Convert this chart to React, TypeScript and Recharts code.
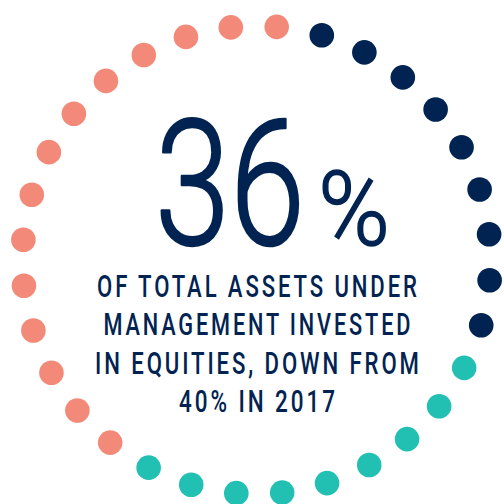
import React, { useLayoutEffect, useRef, useState } from 'react';
import { RadarChart, Radar, PolarAngleAxis, PolarRadiusAxis } from 'recharts';

// Dot ring: number of dots per segment, clockwise from the top
const segmentLabels = ['Equities', 'Segment B', 'Segment C'];
const segmentDots = [9, 9, 14];
const segmentColors = ['#012352', '#22bfb3', '#f38a79'];

const headlineValue = '36';
const headlineUnit = '%';
const captionLines = [
  'OF TOTAL ASSETS UNDER',
  'MANAGEMENT INVESTED',
  'IN EQUITIES, DOWN FROM',
  '40% IN 2017',
];

const data: { name: string; segment: number; value: number }[] = [];
segmentDots.forEach((n, s) => {
  for (let i = 0; i < n; i++) {
    data.push({ name: `${segmentLabels[s]} ${i + 1}`, segment: s, value: 1 });
  }
});

const captionLengths = [320, 307, 324, 156];
const captionBaselines = [297, 335, 374, 412];

const renderDot = (props: any) => {
  const { cx, cy, payload, index } = props;
  const seg = payload && payload.segment !== undefined ? payload.segment : data[index].segment;
  return <circle key={`dot-${index}`} cx={cx} cy={cy} r={12.3} fill={segmentColors[seg]} />;
};

// Text squeezed horizontally to a target width with a measured scale
function FitText(props: any) {
  const { x, y, width, anchor = 'start', spacing = 0, children, ...rest } = props;
  const ref = useRef<SVGTextElement>(null);
  const [sx, setSx] = useState(1);
  useLayoutEffect(() => {
    if (ref.current) {
      const w = ref.current.getComputedTextLength() - spacing;
      if (w > 0) setSx(width / w);
    }
  }, [width, children, spacing]);
  const ax = anchor === 'middle' ? x + (spacing / 2) : x;
  return (
    <text
      ref={ref}
      x={ax}
      y={y}
      textAnchor={anchor}
      letterSpacing={spacing}
      transform={`translate(${x} 0) scale(${sx} 1) translate(${-x} 0)`}
      {...rest}
    >
      {children}
    </text>
  );
}

export default function App() {
  const start = 73.8;
  return (
    <div style={{ position: 'absolute', left: 0, top: 0, width: 504, height: 504, background: '#fff' }}>
      <RadarChart
        width={504}
        height={504}
        data={data}
        cx={256.5}
        cy={260}
        outerRadius={234}
        startAngle={start}
        endAngle={start - 360}
        margin={{ top: 0, right: 0, bottom: 0, left: 0 }}
      >
        <PolarAngleAxis dataKey="name" tick={false} axisLine={false} tickLine={false} />
        <PolarRadiusAxis domain={[0, 1]} tick={false} axisLine={false} tickLine={false} />
        <Radar
          dataKey="value"
          fill="none"
          stroke="none"
          dot={renderDot}
          isAnimationActive={false}
        />
      </RadarChart>
      <svg width={504} height={504} style={{ position: 'absolute', left: 0, top: 0 }}>
        <FitText
          x={155}
          y={244}
          width={150}
          fontFamily="Roboto"
          fontWeight={300}
          fontSize={175}
          fill="#012352"
          stroke="#012352"
          strokeWidth={2.5}
          strokeLinejoin="round"
        >
          {headlineValue}
        </FitText>
        <FitText
          x={318}
          y={245}
          width={72}
          fontFamily="Roboto"
          fontWeight={300}
          fontSize={104}
          fill="#012352"
          stroke="#012352"
          strokeWidth={1.5}
        >
          {headlineUnit}
        </FitText>
        {captionLines.map((line, i) => (
          <FitText
            key={line}
            x={257}
            y={captionBaselines[i]}
            width={captionLengths[i]}
            anchor="middle"
            spacing={4}
            fontFamily="Roboto"
            fontWeight={500}
            fontSize={30.5}
            fill="#012352"
          >
            {line}
          </FitText>
        ))}
      </svg>
    </div>
  );
}
